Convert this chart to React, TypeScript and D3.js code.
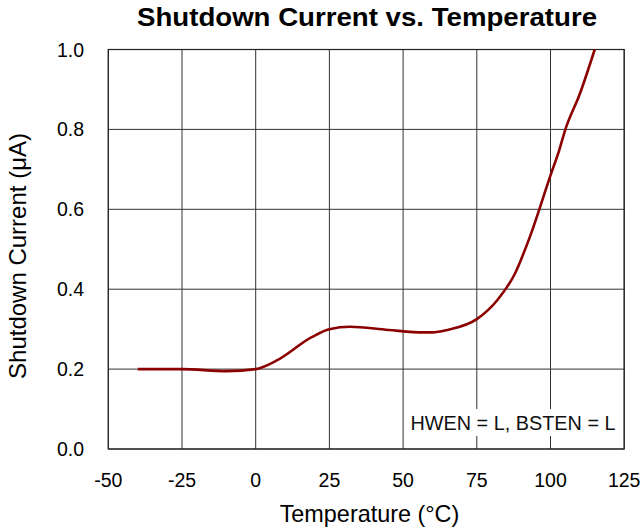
import React from "react";
import * as d3 from "d3";

// curve
const temps = [-40, -25, -10, 0, 7, 19, 25, 32, 45, 57, 60, 65, 75, 82, 88, 93, 100, 103, 105, 110, 115];
const current = [0.2, 0.2, 0.195, 0.2, 0.221, 0.28, 0.3, 0.306, 0.298, 0.292, 0.292, 0.298, 0.325, 0.373, 0.44, 0.531, 0.685, 0.749, 0.799, 0.89, 1.0];
const xTicks = [-50, -25, 0, 25, 50, 75, 100, 125];
const yTicks = [0, 0.2, 0.4, 0.6, 0.8, 1.0];

const width = 643;
const height = 531;
const margin = { top: 49.5, right: 18.8, bottom: 82, left: 108.3 };
const font = "'Liberation Sans', Arial, sans-serif";

const App = () => {
    const x = d3.scaleLinear().domain([-50, 125]).range([margin.left, width - margin.right]);
    const y = d3.scaleLinear().domain([0, 1]).range([height - margin.bottom, margin.top]);

    const data = temps.map((t, i) => ({ t, v: current[i] }));
    const line = d3.line<{ t: number; v: number }>()
        .x(d => x(d.t))
        .y(d => y(d.v))
        .curve(d3.curveMonotoneX);

    const x0 = x(-50), x1 = x(125), yb = y(0), yt = y(1);

    return (
        <svg width={width} height={height} style={{ position: "absolute", left: 0, top: 0 }} fontFamily={font}>
            <rect width={width} height={height} fill="#fff" />
            <text x={367} y={26} textAnchor="middle" fontSize={25} fontWeight="bold" textLength={460} lengthAdjust="spacingAndGlyphs">
                Shutdown Current vs. Temperature
            </text>

            {/* grid */}
            {xTicks.map(t => (
                <line key={"gx" + t} x1={x(t)} x2={x(t)} y1={yt} y2={yb} stroke="#333" strokeWidth={1} />
            ))}
            {yTicks.map(v => (
                <line key={"gy" + v} x1={x0} x2={x1} y1={y(v)} y2={y(v)} stroke="#333" strokeWidth={1} />
            ))}

            {/* annotation box */}
            <rect x={408} y={409} width={211} height={27} fill="#fff" />
            <text x={410.5} y={430} fontSize={19.5} fill="#111" textLength={205} lengthAdjust="spacingAndGlyphs">HWEN = L, BSTEN = L</text>

            {/* frame */}
            <rect x={x0} y={yt} width={x1 - x0} height={yb - yt} fill="none" stroke="#222" strokeWidth={1.2} />

            <path d={line(data) || ""} fill="none" stroke="#8b0000" strokeWidth={2.6} strokeLinejoin="round" />

            {xTicks.map(t => (
                <text key={"tx" + t} x={x(t)} y={486.5} textAnchor="middle" fontSize={19.5}>{t}</text>
            ))}
            {yTicks.map(v => (
                <text key={"ty" + v} x={84} y={y(v) + 7} textAnchor="end" fontSize={19.5}>{v.toFixed(1)}</text>
            ))}

            <text x={369.5} y={521.5} textAnchor="middle" fontSize={23.4}>Temperature (°C)</text>
            <text transform={`translate(26,256) rotate(-90)`} textAnchor="middle" fontSize={24}>Shutdown Current (μA)</text>
        </svg>
    );
};

export default App;
